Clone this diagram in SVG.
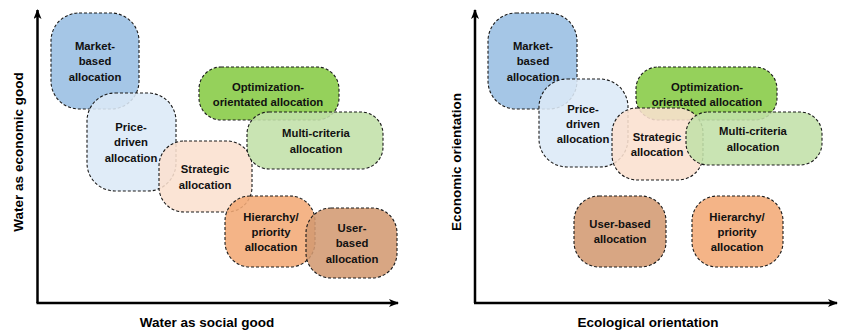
<svg xmlns="http://www.w3.org/2000/svg" width="846" height="336" viewBox="0 0 846 336">
<defs>
<marker id="arr" viewBox="0 0 10 8" refX="9" refY="4" markerWidth="10" markerHeight="8" markerUnits="userSpaceOnUse" orient="auto">
<path d="M0,0 L10,4 L0,8 L2.5,4 Z" fill="#000"/>
</marker>
<style>
.n{stroke:#1a1a1a;stroke-width:1.1;stroke-dasharray:3 2;fill-opacity:0.88}
.t{font-family:"Liberation Sans",Arial,sans-serif;font-weight:bold;font-size:11.3px;fill:#111;text-anchor:middle}
.ax{font-family:"Liberation Sans",Arial,sans-serif;font-weight:bold;font-size:13.5px;fill:#000;text-anchor:middle}
.axis{stroke:#000;stroke-width:2.5;fill:none}
.mk{fill:#99BEE3}.pd{fill:#DCE9F7}.st{fill:#FBE0CF}.op{fill:#86CB44}.mc{fill:#C2E0A8}.hi{fill:#F2AA76}.ub{fill:#D39A72}
</style>
</defs>
<rect width="846" height="336" fill="#fff"/>
<g id="axes">
<line class="axis" x1="37.5" y1="303" x2="37.5" y2="10" marker-end="url(#arr)"/>
<line class="axis" x1="36.5" y1="303" x2="398" y2="303" marker-end="url(#arr)"/>
<line class="axis" x1="475" y1="303" x2="475" y2="10" marker-end="url(#arr)"/>
<line class="axis" x1="474" y1="303" x2="837" y2="303" marker-end="url(#arr)"/>
<text class="ax" transform="translate(23,152) rotate(-90)">Water as economic good</text>
<text class="ax" x="207" y="327">Water as social good</text>
<text class="ax" transform="translate(461,162) rotate(-90)">Economic orientation</text>
<text class="ax" x="648" y="327">Ecological orientation</text>
</g>
<g id="left">
<g id="L-market"><rect class="n mk" x="51" y="13" width="88" height="96" rx="28"/>
<text class="t" x="95" y="50">Market-</text><text class="t" x="95" y="65">based</text><text class="t" x="95" y="81">allocation</text></g>
<g id="L-price"><rect class="n pd" x="87" y="93" width="89" height="98" rx="28"/>
<text class="t" x="131" y="131">Price-</text><text class="t" x="131" y="146">driven</text><text class="t" x="131" y="162">allocation</text></g>
<g id="L-strategic"><rect class="n st" x="159" y="141" width="93" height="71" rx="25"/>
<text class="t" x="205" y="173">Strategic</text><text class="t" x="205" y="189">allocation</text></g>
<g id="L-optim"><rect class="n op" x="199" y="67" width="140" height="53" rx="22"/>
<text class="t" x="268" y="91">Optimization-</text><text class="t" x="268" y="106">orientated allocation</text></g>
<g id="L-multi"><rect class="n mc" x="247" y="112" width="136" height="57" rx="22"/>
<text class="t" x="316" y="137">Multi-criteria</text><text class="t" x="316" y="153">allocation</text></g>
<g id="L-hier"><rect class="n hi" x="225" y="196" width="90" height="71" rx="25"/>
<text class="t" x="271" y="221">Hierarchy/</text><text class="t" x="271" y="236">priority</text><text class="t" x="271" y="251">allocation</text></g>
<g id="L-user"><rect class="n ub" x="306" y="208" width="91" height="70" rx="25"/>
<text class="t" x="352" y="232">User-</text><text class="t" x="352" y="247">based</text><text class="t" x="352" y="263">allocation</text></g>
</g>
<g id="right">
<g id="R-market"><rect class="n mk" x="488" y="13" width="89" height="96" rx="28"/>
<text class="t" x="533" y="50">Market-</text><text class="t" x="533" y="65">based</text><text class="t" x="533" y="81">allocation</text></g>
<g id="R-price"><rect class="n pd" x="539" y="79" width="89" height="88" rx="28"/>
<text class="t" x="583" y="113">Price-</text><text class="t" x="583" y="128">driven</text><text class="t" x="583" y="143">allocation</text></g>
<g id="R-optim"><rect class="n op" x="636" y="67" width="141" height="53" rx="22"/>
<text class="t" x="707" y="91">Optimization-</text><text class="t" x="707" y="106">orientated allocation</text></g>
<g id="R-strategic"><rect class="n st" x="612" y="108" width="91" height="72" rx="25"/>
<text class="t" x="657" y="141">Strategic</text><text class="t" x="657" y="156">allocation</text></g>
<g id="R-multi"><rect class="n mc" x="686" y="112" width="136" height="53" rx="22"/>
<text class="t" x="753" y="135">Multi-criteria</text><text class="t" x="753" y="151">allocation</text></g>
<g id="R-user"><rect class="n ub" x="574" y="196" width="92" height="71" rx="25"/>
<text class="t" x="620" y="228">User-based</text><text class="t" x="620" y="243">allocation</text></g>
<g id="R-hier"><rect class="n hi" x="692" y="196" width="91" height="71" rx="25"/>
<text class="t" x="737" y="221">Hierarchy/</text><text class="t" x="737" y="236">priority</text><text class="t" x="737" y="251">allocation</text></g>
</g>
</svg>
